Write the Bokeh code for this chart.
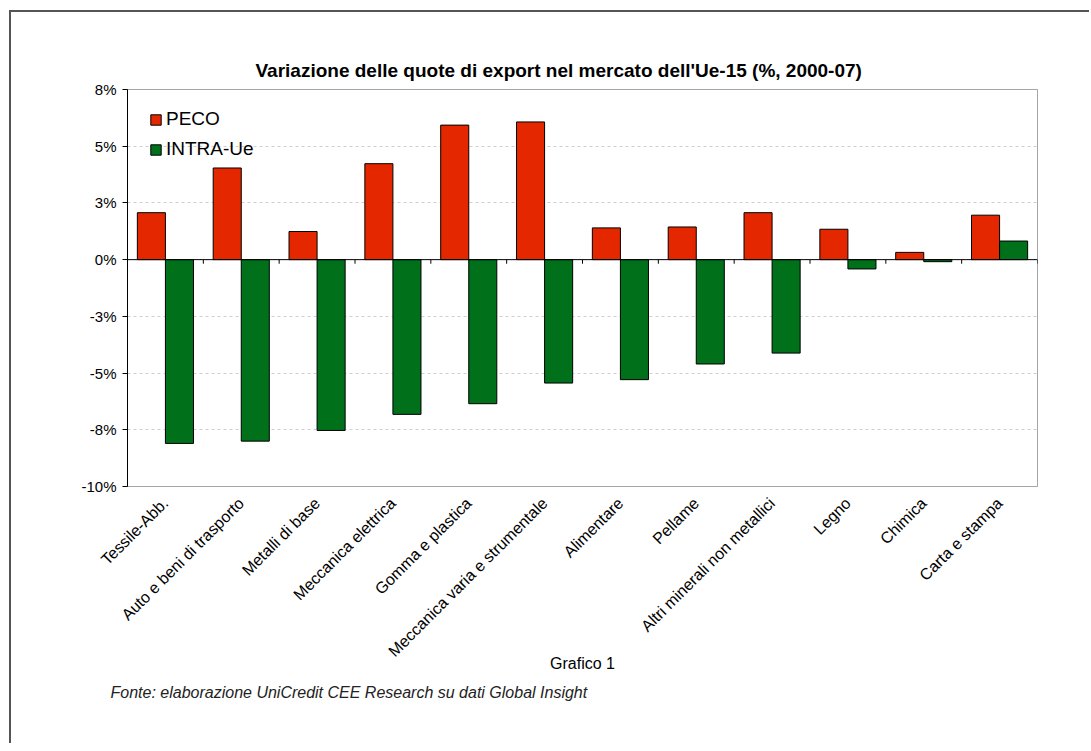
import math
from bokeh.plotting import figure
from bokeh.layouts import column
from bokeh.models import (ColumnDataSource, FactorRange, FixedTicker, Span, Title,
                          Legend, LegendItem)
from bokeh.transform import dodge
from bokeh.embed import file_html
from bokeh.resources import INLINE

categories = ["Tessile-Abb.", "Auto e beni di trasporto", "Metalli di base",
              "Meccanica elettrica", "Gomma e plastica", "Meccanica varia e strumentale",
              "Alimentare", "Pellame", "Altri minerali non metallici", "Legno",
              "Chimica", "Carta e stampa"]
peco = [2.07, 4.04, 1.24, 4.23, 5.93, 6.07, 1.40, 1.44, 2.07, 1.34, 0.32, 1.96]
intra_ue = [-8.10, -8.00, -7.53, -6.82, -6.35, -5.44, -5.29, -4.60, -4.12, -0.41, -0.09, 0.82]
y_ticks = [7.5, 5, 2.5, 0, -2.5, -5, -7.5, -10]
y_tick_labels = ["8%", "5%", "3%", "0%", "-3%", "-5%", "-8%", "-10%"]

title_text = "Variazione delle quote di export nel mercato dell'Ue-15 (%, 2000-07)"
caption_text = "Grafico 1"
source_text = "Fonte: elaborazione UniCredit CEE Research su dati Global Insight"

FONT = "Liberation Sans"
RED = "#E52700"
GREEN = "#00701A"

src = ColumnDataSource(dict(cat=categories, peco=peco, intra=intra_ue))

p = figure(x_range=FactorRange(*categories), y_range=(min(y_ticks), max(y_ticks)),
           width=1078, height=731, output_backend="svg", toolbar_location=None,
           min_border_left=116, min_border_top=77, min_border_right=52, min_border_bottom=257)
p.x_range.range_padding = 0
p.background_fill_color = "white"
p.border_fill_color = "white"
p.outline_line_color = "#A6A6A6"
p.outline_line_width = 1

# title
p.title.text = title_text
p.title.text_font = FONT
p.title.text_font_size = "19px"
p.title.text_font_style = "bold"
p.title.text_color = "black"
p.title.align = "left"
p.title.offset = 128
p.title.standoff = 18

# grid
p.xgrid.grid_line_color = None
p.ygrid.ticker = FixedTicker(ticks=y_ticks)
p.ygrid.grid_line_color = "#CFCFCF"
p.ygrid.grid_line_dash = "3 3"
p.ygrid.grid_line_width = 1

# y axis
p.yaxis.ticker = FixedTicker(ticks=y_ticks)
p.yaxis.major_label_overrides = {t: l for t, l in zip(y_ticks, y_tick_labels)}
p.yaxis.axis_line_color = "black"
p.yaxis.major_tick_line_color = "black"
p.yaxis.major_tick_in = 0
p.yaxis.major_tick_out = 5
p.yaxis.minor_tick_line_color = None
p.yaxis.major_label_text_font = FONT
p.yaxis.major_label_text_font_size = "15px"
p.yaxis.major_label_text_color = "black"
p.yaxis.major_label_standoff = 6

# x axis (labels only) with the caption as axis label
p.xaxis.axis_line_color = None
p.xaxis.major_tick_line_color = None
p.xaxis.minor_tick_line_color = None
p.xaxis.major_label_orientation = math.pi / 4
p.xaxis.major_label_text_font = FONT
p.xaxis.major_label_text_font_size = "16px"
p.xaxis.major_label_text_color = "black"
p.xaxis.major_label_standoff = 8
p.xaxis.axis_label = caption_text
p.xaxis.axis_label_text_font = FONT
p.xaxis.axis_label_text_font_size = "16px"
p.xaxis.axis_label_text_font_style = "normal"
p.xaxis.axis_label_text_color = "black"
p.xaxis.axis_label_standoff = -14

# bars
r1 = p.vbar(x=dodge("cat", -0.185, range=p.x_range), top="peco", bottom=0, width=0.37,
            source=src, fill_color=RED, line_color="black", line_width=1)
r2 = p.vbar(x=dodge("cat", 0.185, range=p.x_range), top="intra", bottom=0, width=0.37,
            source=src, fill_color=GREEN, line_color="black", line_width=1)

# zero axis line with category ticks
p.add_layout(Span(location=0, dimension="width", line_color="black", line_width=1))
p.segment(x0=dodge("cat", 0.5, range=p.x_range), x1=dodge("cat", 0.5, range=p.x_range),
          y0=0, y1=-0.18, source=src, line_color="black", line_width=1)

# legend
legend = Legend(items=[LegendItem(label="PECO", renderers=[r1]),
                       LegendItem(label="INTRA-Ue", renderers=[r2])],
                location=(22, 326), orientation="vertical",
                label_text_font=FONT, label_text_font_size="19px",
                label_text_color="black", glyph_width=13, glyph_height=13,
                label_height=20, spacing=8, padding=0, margin=0,
                label_standoff=4, border_line_color=None, background_fill_alpha=0)
p.add_layout(legend)

# source note below the chart
p.add_layout(Title(text=source_text, text_font=FONT, text_font_size="16px",
                   text_font_style="italic", text_color="#222222",
                   align="left", offset=-17, standoff=14), "below")

layout = column(p, styles={"margin-left": "9px", "margin-top": "10px",
                           "border-left": "2px solid #555555",
                           "border-top": "2px solid #555555"})

open("out.html", "w").write(file_html(layout, INLINE))
